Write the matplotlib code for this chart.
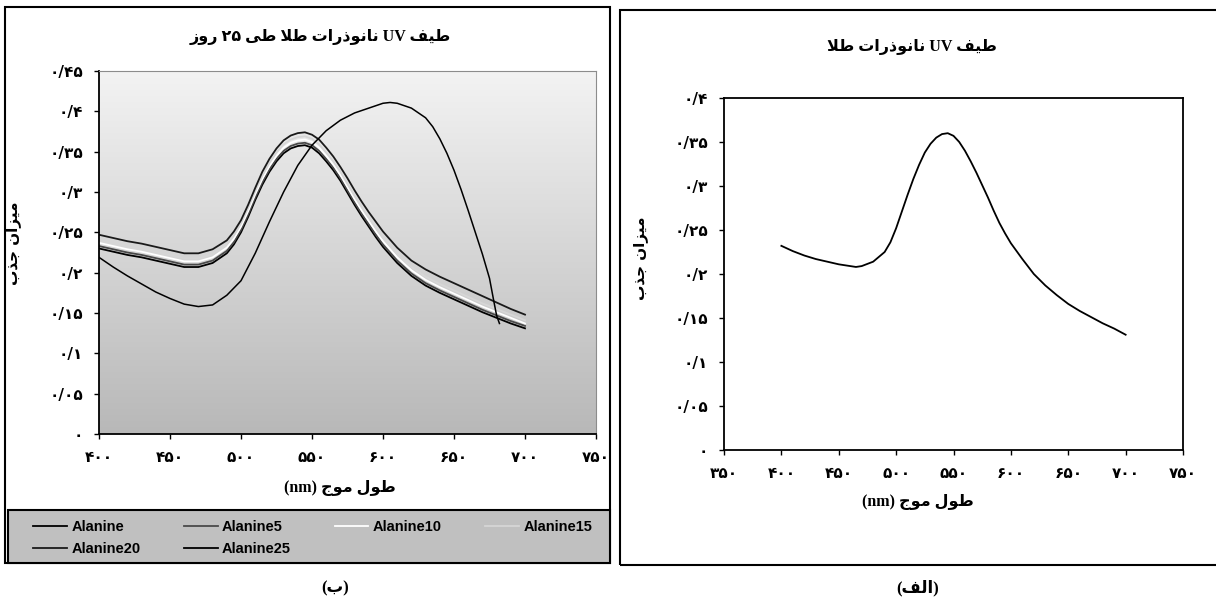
import numpy as np
import matplotlib
matplotlib.use("Agg")
import matplotlib.pyplot as plt
from matplotlib.patches import Rectangle
from matplotlib.lines import Line2D

# ---- data ----
wl = [400, 410, 420, 430, 440, 450, 460, 470, 480, 490, 495, 500, 505, 510, 515, 520, 525, 530,
      535, 540, 545, 550, 555, 560, 565, 570, 575, 580, 585, 590, 595, 600, 610, 620, 630, 640,
      650, 660, 670, 680, 690, 700]
alanine = [0.230, 0.226, 0.222, 0.219, 0.215, 0.211, 0.207, 0.207, 0.212, 0.224, 0.235, 0.250,
           0.269, 0.290, 0.309, 0.325, 0.338, 0.348, 0.354, 0.357, 0.358, 0.355, 0.348, 0.338,
           0.327, 0.314, 0.299, 0.284, 0.270, 0.257, 0.244, 0.232, 0.212, 0.196, 0.184, 0.175,
           0.167, 0.159, 0.151, 0.144, 0.137, 0.131]
alanine5 = [0.233, 0.229, 0.225, 0.222, 0.218, 0.214, 0.210, 0.210, 0.215, 0.227, 0.238, 0.253,
            0.272, 0.293, 0.312, 0.328, 0.341, 0.351, 0.357, 0.360, 0.361, 0.358, 0.351, 0.341,
            0.330, 0.317, 0.302, 0.287, 0.273, 0.260, 0.247, 0.235, 0.215, 0.199, 0.187, 0.178,
            0.170, 0.162, 0.154, 0.147, 0.140, 0.134]
alanine10 = [0.237, 0.233, 0.229, 0.226, 0.222, 0.218, 0.214, 0.214, 0.219, 0.231, 0.242, 0.257,
             0.276, 0.297, 0.316, 0.332, 0.345, 0.355, 0.361, 0.364, 0.365, 0.362, 0.355, 0.345,
             0.334, 0.321, 0.306, 0.291, 0.277, 0.264, 0.251, 0.239, 0.219, 0.203, 0.191, 0.182,
             0.174, 0.166, 0.158, 0.151, 0.144, 0.137]
alanine15 = [0.241, 0.237, 0.233, 0.230, 0.226, 0.222, 0.218, 0.218, 0.223, 0.235, 0.246, 0.261,
             0.280, 0.301, 0.320, 0.336, 0.349, 0.359, 0.365, 0.368, 0.369, 0.366, 0.359, 0.349,
             0.338, 0.325, 0.310, 0.295, 0.281, 0.268, 0.255, 0.243, 0.223, 0.207, 0.195, 0.186,
             0.178, 0.170, 0.162, 0.155, 0.148, 0.141]
alanine20 = [0.247, 0.243, 0.239, 0.236, 0.232, 0.228, 0.224, 0.224, 0.229, 0.240, 0.251, 0.265,
             0.284, 0.305, 0.325, 0.341, 0.354, 0.364, 0.370, 0.373, 0.374, 0.371, 0.365, 0.355,
             0.344, 0.331, 0.317, 0.302, 0.288, 0.275, 0.263, 0.251, 0.231, 0.215, 0.204, 0.195,
             0.187, 0.179, 0.171, 0.163, 0.155, 0.148]
wl25 = [400, 410, 420, 430, 440, 450, 460, 470, 480, 490, 500, 510, 520, 530, 540, 550, 560,
        570, 580, 590, 600, 605, 610, 620, 630, 635, 640, 645, 650, 655, 660, 665, 670, 675,
        678, 680, 682]
alanine25 = [0.219, 0.207, 0.196, 0.186, 0.176, 0.168, 0.161, 0.158, 0.160, 0.172, 0.190, 0.224,
             0.263, 0.300, 0.333, 0.358, 0.376, 0.389, 0.398, 0.404, 0.410, 0.411, 0.410, 0.404,
             0.392, 0.381, 0.366, 0.348, 0.327, 0.303, 0.277, 0.250, 0.223, 0.193, 0.165, 0.147,
             0.137]

wl_gold = [400, 410, 420, 430, 440, 450, 460, 465, 470, 480, 490, 495, 500, 505, 510, 515, 520,
           525, 530, 535, 540, 545, 550, 555, 560, 565, 570, 575, 580, 585, 590, 595, 600, 610,
           620, 630, 640, 650, 660, 670, 680, 690, 700]
gold = [0.232, 0.226, 0.221, 0.217, 0.214, 0.211, 0.209, 0.208, 0.209, 0.214, 0.225, 0.236, 0.252,
        0.271, 0.290, 0.308, 0.324, 0.338, 0.348, 0.355, 0.359, 0.360, 0.357, 0.350, 0.340, 0.328,
        0.315, 0.301, 0.287, 0.272, 0.258, 0.246, 0.235, 0.217, 0.200, 0.187, 0.176, 0.166, 0.158,
        0.151, 0.144, 0.138, 0.131]

names = ["Alanine", "Alanine5", "Alanine10", "Alanine15", "Alanine20", "Alanine25"]
colors = ["#000000", "#4a4a4a", "#ffffff", "#d6d6d6", "#1a1a1a", "#000000"]

yticks_b = [0, 0.05, 0.1, 0.15, 0.2, 0.25, 0.3, 0.35, 0.4, 0.45]
xticks_b = [400, 450, 500, 550, 600, 650, 700, 750]
yticks_a = [0, 0.05, 0.1, 0.15, 0.2, 0.25, 0.3, 0.35, 0.4]
xticks_a = [350, 400, 450, 500, 550, 600, 650, 700, 750]

# ---- minimal arabic shaping (matplotlib does no joining / bidi) ----
FORMS = {
    'ا': ('\uFE8D', '\uFE8E', None, None),
    'ب': ('\uFE8F', '\uFE90', '\uFE91', '\uFE92'),
    'ت': ('\uFE95', '\uFE96', '\uFE97', '\uFE98'),
    'ج': ('\uFE9D', '\uFE9E', '\uFE9F', '\uFEA0'),
    'ذ': ('\uFEAB', '\uFEAC', None, None),
    'ر': ('\uFEAD', '\uFEAE', None, None),
    'ز': ('\uFEAF', '\uFEB0', None, None),
    'ط': ('\uFEC1', '\uFEC2', '\uFEC3', '\uFEC4'),
    'ف': ('\uFED1', '\uFED2', '\uFED3', '\uFED4'),
    'ل': ('\uFEDD', '\uFEDE', '\uFEDF', '\uFEE0'),
    'م': ('\uFEE1', '\uFEE2', '\uFEE3', '\uFEE4'),
    'ن': ('\uFEE5', '\uFEE6', '\uFEE7', '\uFEE8'),
    'و': ('\uFEED', '\uFEEE', None, None),
    'ی': ('\uFBFC', '\uFBFD', '\uFBFE', '\uFBFF'),
}


def shape(word):
    out = []
    i = 0
    prev = False
    while i < len(word):
        c = word[i]
        if c == 'ل' and i + 1 < len(word) and word[i + 1] == 'ا':
            out.append('\uFEFC' if prev else '\uFEFB')
            prev = False
            i += 2
            continue
        iso, fin, ini, med = FORMS[c]
        nxt = ini is not None and i + 1 < len(word) and word[i + 1] in FORMS
        if prev and nxt:
            g = med
        elif prev:
            g = fin
        elif nxt:
            g = ini
        else:
            g = iso
        out.append(g)
        prev = nxt
        i += 1
    return ''.join(reversed(out))


def fa(v):
    s = ('%.2f' % v).rstrip('0').rstrip('.').replace('.', '/')
    return s.translate(str.maketrans('0123456789', '۰۱۲۳۴۵۶۷۸۹'))


title_b = ' '.join([shape('روز'), '۲۵', shape('طی'), shape('طلا'), shape('نانوذرات'), 'UV', shape('طیف')])
title_a = ' '.join([shape('طلا'), shape('نانوذرات'), 'UV', shape('طیف')])
ylab = shape('جذب') + ' ' + shape('میزان')
xlab = '(nm) ' + shape('موج') + ' ' + shape('طول')
cap_b = '(' + shape('ب') + ')'
cap_a = '(' + shape('الف') + ')'

MIX = ['Liberation Serif', 'DejaVu Sans']
AR = ['DejaVu Sans']

W, H = 1216, 606
fig = plt.figure(figsize=(W / 100, H / 100), dpi=100)


def fx(x):
    return x / W


def fy(y):
    return 1 - y / H


# panel frames
fig.add_artist(Rectangle((fx(5), fy(563)), fx(610) - fx(5), (563 - 7) / H, transform=fig.transFigure,
                         fill=False, ec='black', lw=1.5))
fig.add_artist(Rectangle((fx(620), fy(565)), fx(1230) - fx(620), (565 - 10) / H, transform=fig.transFigure,
                         fill=False, ec='black', lw=1.5))

# ---- chart (b) ----
ax1 = fig.add_axes([fx(99), fy(434), (596 - 99) / W, (434 - 71) / H])
grad = np.linspace(0, 1, 256).reshape(-1, 1)
ax1.imshow(grad, extent=[400, 750, 0, 0.45], aspect='auto', origin='upper',
           cmap=matplotlib.colors.LinearSegmentedColormap.from_list('g', ['#f3f3f3', '#b8b8b8']),
           zorder=0)
series = [alanine, alanine5, alanine10, alanine15, alanine20]
for ys, c in zip(series, colors[:5]):
    ax1.plot(wl, ys, color=c, lw=1.3, zorder=2)
ax1.plot(wl25, alanine25, color=colors[5], lw=1.1, zorder=3)
ax1.set_xlim(400, 750)
ax1.set_ylim(0, 0.45)
ax1.set_xticks(xticks_b)
ax1.set_xticklabels([fa(v) for v in xticks_b], family=AR, weight='bold', fontsize=11)
ax1.set_yticks(yticks_b)
ax1.set_yticklabels([fa(v) for v in yticks_b], family=AR, weight='bold', fontsize=11)
ax1.tick_params(direction='out', length=3.5, width=1, pad=8)
for s in ['top', 'right']:
    ax1.spines[s].set_color('#8c8c8c')
for s in ['left', 'bottom']:
    ax1.spines[s].set_linewidth(1.3)

fig.text(fx(320), fy(37), title_b, family=MIX, weight='bold', fontsize=11.5, ha='center', va='center')
fig.text(fx(14), fy(243), ylab, family=AR, weight='bold', fontsize=11, ha='center', va='center', rotation=90)
fig.text(fx(340), fy(488), xlab, family=MIX, weight='bold', fontsize=11.5, ha='center', va='center')
fig.text(fx(335), fy(588), cap_b, family=MIX, weight='bold', fontsize=12, ha='center', va='center')

# legend box, entries listed column by column so they read across in rows
fig.add_artist(Rectangle((fx(8), fy(563)), fx(610) - fx(8), (563 - 510) / H, transform=fig.transFigure,
                         fc='#c0c0c0', ec='black', lw=1.5, zorder=1))
order = [0, 4, 1, 5, 2, 3]
handles = [Line2D([], [], color=colors[k], lw=1.3) for k in order]
fig.legend(handles, [names[k] for k in order], ncol=4, loc='upper left', bbox_to_anchor=(fx(26), fy(513)),
           frameon=False, borderpad=0, handlelength=2.3, handletextpad=0.3, columnspacing=3.0,
           labelspacing=0.55, prop={'family': 'Liberation Sans', 'weight': 'bold', 'size': 10.5})

# ---- chart (a) ----
ax2 = fig.add_axes([fx(724), fy(450), (1183 - 724) / W, (450 - 98) / H])
ax2.plot(wl_gold, gold, color='black', lw=1.3)
ax2.set_xlim(350, 750)
ax2.set_ylim(0, 0.4)
ax2.set_xticks(xticks_a)
ax2.set_xticklabels([fa(v) for v in xticks_a], family=AR, weight='bold', fontsize=11)
ax2.set_yticks(yticks_a)
ax2.set_yticklabels([fa(v) for v in yticks_a], family=AR, weight='bold', fontsize=11)
ax2.tick_params(direction='out', length=3.5, width=1, pad=8)
for s in ax2.spines.values():
    s.set_linewidth(1.3)

fig.text(fx(912), fy(47), title_a, family=MIX, weight='bold', fontsize=11.5, ha='center', va='center')
fig.text(fx(640), fy(258), ylab, family=AR, weight='bold', fontsize=11, ha='center', va='center', rotation=90)
fig.text(fx(918), fy(502), xlab, family=MIX, weight='bold', fontsize=11.5, ha='center', va='center')
fig.text(fx(918), fy(588), cap_a, family=MIX, weight='bold', fontsize=12, ha='center', va='center')

fig.savefig('out.png', dpi=100)
